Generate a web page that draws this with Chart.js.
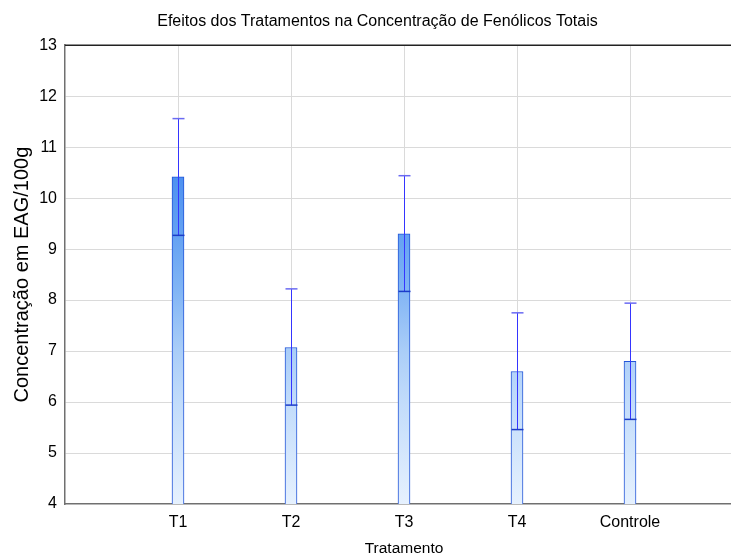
<!DOCTYPE html>
<html>
<head>
<meta charset="utf-8">
<script src="https://cdn.jsdelivr.net/npm/chart.js@4"></script>
<style>
  html, body { margin: 0; padding: 0; background: #fff; overflow: hidden; }
  canvas { display: block; }
</style>
</head>
<body>
<canvas id="chart" width="760" height="556"></canvas>
<script>
// Empty slots at both ends leave room like the original plot
const categories = ['', 'T1', 'T2', 'T3', 'T4', 'Controle', ''];
const means = [null, 10.42, 7.07, 9.30, 6.60, 6.80, null];
const lower = [null, 9.27, 5.94, 8.17, 5.46, 5.66, null];
const upper = [null, 11.56, 8.22, 10.44, 7.75, 7.94, null];
const yTicks = [4, 5, 6, 7, 8, 9, 10, 11, 12, 13];

const FONT = "'Liberation Sans', Arial, sans-serif";

/**
 * Vertical gradient over the whole plot height
 */
function barGradient(context) {
  const chart = context.chart;
  const area = chart.chartArea;
  if (!area) return '#9cc6f8';
  const g = chart.ctx.createLinearGradient(0, area.bottom, 0, area.top);
  g.addColorStop(0, '#e6f1fe');
  g.addColorStop(0.22, '#c2dcfb');
  g.addColorStop(0.33, '#abcef8');
  g.addColorStop(0.47, '#80b4f5');
  g.addColorStop(0.59, '#64a1f2');
  g.addColorStop(0.71, '#4e91f0');
  g.addColorStop(1, '#3079e8');
  return g;
}

// whiskers drawn on top of the bars
const errorBars = {
  id: 'errorBars',
  afterDatasetsDraw(chart) {
    const ctx = chart.ctx;
    const xs = chart.scales.x;
    const ys = chart.scales.y;
    const half = 6;
    ctx.save();
    means.forEach((m, i) => {
      if (m === null) return;
      const x = Math.round(xs.getPixelForValue(i)) + 0.5;
      const yLo = ys.getPixelForValue(lower[i]);
      const yHi = ys.getPixelForValue(upper[i]);
      ctx.strokeStyle = '#3535ff';
      ctx.lineWidth = 1;
      ctx.beginPath();
      ctx.moveTo(x, yLo);
      ctx.lineTo(x, yHi);
      ctx.stroke();
      ctx.strokeStyle = '#6a6af2';
      ctx.lineWidth = 1.5;
      ctx.beginPath();
      ctx.moveTo(x - half, yHi);
      ctx.lineTo(x + half, yHi);
      ctx.stroke();
      ctx.strokeStyle = '#1c3cc8';
      ctx.beginPath();
      ctx.moveTo(x - half, yLo);
      ctx.lineTo(x + half, yLo);
      ctx.stroke();
    });
    // top frame line
    const a = chart.chartArea;
    ctx.strokeStyle = '#222';
    ctx.lineWidth = 1.5;
    ctx.beginPath();
    ctx.moveTo(a.left, a.top);
    ctx.lineTo(a.right, a.top);
    ctx.stroke();
    ctx.restore();
  }
};

new Chart(document.getElementById('chart'), {
  type: 'bar',
  data: {
    labels: categories,
    datasets: [
      {
        label: 'Média',
        data: means,
        backgroundColor: barGradient,
        borderColor: '#2355d8',
        borderWidth: 1,
        barThickness: 12
      }
    ]
  },
  options: {
    responsive: false,
    animation: false,
    layout: { padding: { left: 12, right: 17, top: 0, bottom: 0 } },
    plugins: {
      legend: { display: false },
      tooltip: { enabled: false },
      title: {
        display: true,
        text: 'Efeitos dos Tratamentos na Concentração de Fenólicos Totais',
        color: '#000',
        font: { family: FONT, size: 16, weight: 'normal', lineHeight: 1.2 },
        padding: { top: 12, bottom: 14 }
      }
    },
    scales: {
      x: {
        offset: false,
        afterFit: scale => { scale.height = 52; },
        grid: {
          offset: false,
          drawTicks: false,
          color: ctx => (categories[ctx.index] ? '#dadada' : 'rgba(0,0,0,0)')
        },
        border: { color: '#707070', width: 1.5 },
        ticks: {
          autoSkip: false,
          maxRotation: 0,
          padding: 9,
          color: '#000',
          font: { family: FONT, size: 16 }
        },
        title: {
          display: true,
          text: 'Tratamento',
          color: '#000',
          font: { family: FONT, size: 15.5, lineHeight: 1.0 },
          padding: { top: 0, bottom: 0 }
        }
      },
      y: {
        min: 4,
        max: 13,
        afterFit: scale => { scale.width = 53; },
        afterBuildTicks: scale => { scale.ticks = yTicks.map(v => ({ value: v })); },
        grid: {
          drawTicks: false,
          color: ctx => (ctx.tick && (ctx.tick.value === 4 || ctx.tick.value === 13) ? 'rgba(0,0,0,0)' : '#dadada')
        },
        border: { color: '#707070', width: 1.5 },
        ticks: {
          padding: 8,
          color: '#000',
          font: { family: FONT, size: 16 }
        },
        title: {
          display: true,
          text: 'Concentração em EAG/100g',
          color: '#000',
          font: { family: FONT, size: 20, lineHeight: 1.0 },
          padding: { top: 0, bottom: 0 }
        }
      }
    }
  },
  plugins: [errorBars]
});
</script>
</body>
</html>
